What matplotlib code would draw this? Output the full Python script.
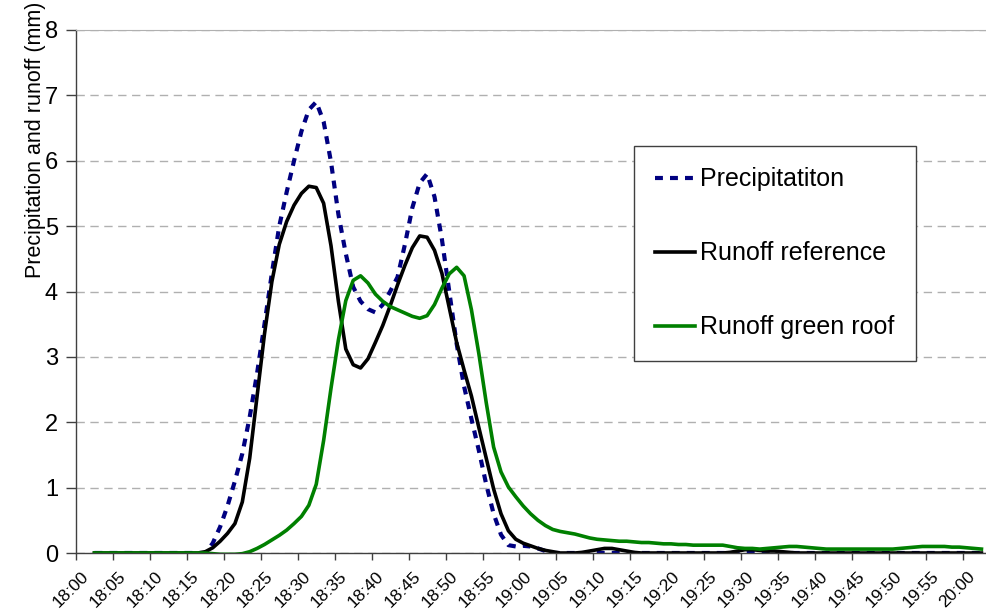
import numpy as np
import matplotlib
matplotlib.use('Agg')
import matplotlib.pyplot as plt

plt.rcParams['font.family'] = ['Liberation Sans', 'DejaVu Sans']

# minute-by-minute values from 18:02 to 20:02 (mm)
first_minute = 2

precipitation = [
    0, 0, 0, 0, 0, 0, 0, 0, 0, 0, 0, 0, 0, 0, 0.0,            # 18:02-18:16
    0.0, 0.15, 0.40, 0.72, 1.10, 1.52, 2.08, 2.75, 3.50, 4.28,  # 18:17-18:26
    5.00, 5.52, 6.00, 6.45, 6.78, 6.90, 6.60, 5.98, 5.18, 4.58,  # 18:27-18:36
    4.07, 3.85, 3.73, 3.68, 3.80, 4.00, 4.22, 4.72, 5.28, 5.66,  # 18:37-18:46
    5.80, 5.45, 4.80, 4.00, 3.20, 2.55, 2.05, 1.57, 1.05, 0.60,  # 18:47-18:56
    0.28, 0.12, 0.10, 0.11, 0.10, 0.07, 0.03, 0, 0, 0,           # 18:57-19:06
    0, 0, 0, 0, 0, 0, 0, 0, 0, 0,                                # 19:07-19:16
    0, 0, 0, 0, 0, 0, 0, 0, 0, 0,                                # 19:17-19:26
    0, 0, 0, 0, 0, 0, 0, 0, 0, 0,                                # 19:27-19:36
    0, 0, 0, 0, 0, 0, 0, 0, 0, 0,                                # 19:37-19:46
    0, 0, 0, 0, 0, 0, 0, 0, 0, 0,                                # 19:47-19:56
    0, 0, 0, 0, 0, 0,                                            # 19:57-20:02
]

runoff_reference = [
    0, 0, 0, 0, 0, 0, 0, 0, 0, 0, 0, 0, 0, 0, 0,
    0.02, 0.08, 0.18, 0.30, 0.45, 0.78, 1.45, 2.40, 3.35, 4.15,
    4.72, 5.07, 5.32, 5.50, 5.61, 5.59, 5.35, 4.70, 3.85, 3.12,
    2.88, 2.83, 2.97, 3.22, 3.48, 3.78, 4.10, 4.40, 4.67, 4.85,
    4.83, 4.63, 4.28, 3.75, 3.22, 2.80, 2.40, 1.92, 1.45, 0.98,
    0.60, 0.34, 0.21, 0.15, 0.11, 0.07, 0.04, 0.02, 0, 0,
    0, 0.01, 0.03, 0.05, 0.07, 0.07, 0.05, 0.03, 0.01, 0,
    0, 0, 0, 0, 0, 0, 0, 0, 0, 0,
    0, 0.01, 0.03, 0.05, 0.05, 0.04, 0.03, 0.03, 0.02, 0.01,
    0, 0, 0, 0, 0, 0, 0, 0, 0, 0,
    0, 0, 0, 0, 0, 0, 0, 0, 0, 0,
    0, 0, 0, 0, 0, 0,
]

runoff_green_roof = [
    0, 0, 0, 0, 0, 0, 0, 0, 0, 0, 0, 0, 0, 0, 0,
    0, -0.01, -0.02, -0.02, -0.02, -0.01, 0.02, 0.07, 0.13, 0.20,
    0.27, 0.35, 0.45, 0.56, 0.73, 1.05, 1.72, 2.52, 3.26, 3.86,
    4.17, 4.24, 4.13, 3.96, 3.85, 3.77, 3.72, 3.67, 3.62, 3.59,
    3.63, 3.80, 4.05, 4.27, 4.37, 4.24, 3.72, 3.05, 2.30, 1.62,
    1.24, 1.01, 0.86, 0.72, 0.60, 0.50, 0.42, 0.36, 0.33, 0.31,
    0.29, 0.26, 0.23, 0.21, 0.20, 0.19, 0.18, 0.18, 0.17, 0.16,
    0.16, 0.15, 0.14, 0.14, 0.13, 0.13, 0.12, 0.12, 0.12, 0.12,
    0.12, 0.10, 0.08, 0.07, 0.07, 0.06, 0.07, 0.08, 0.09, 0.10,
    0.10, 0.09, 0.08, 0.07, 0.06, 0.06, 0.06, 0.06, 0.06, 0.06,
    0.06, 0.06, 0.06, 0.06, 0.07, 0.08, 0.09, 0.10, 0.10, 0.10,
    0.10, 0.09, 0.09, 0.08, 0.07, 0.06,
]

tick_minutes = list(range(0, 121, 5))
tick_labels = [f'{18 + m // 60}:{m % 60:02d}' for m in tick_minutes]

fig = plt.figure(figsize=(9.87, 6.10), dpi=100)
ax = fig.add_axes([76 / 987, 1 - 553 / 610, 911 / 987, 523 / 610])

x = np.arange(len(precipitation)) + first_minute + 0.5  # category centres

ax.plot(x, precipitation, color='#000080', lw=3.0, dashes=(1.9, 1.7),
        label='Precipitatiton', dash_capstyle='butt', dash_joinstyle='round')
ax.plot(x, runoff_reference, color='black', lw=2.6, label='Runoff reference',
        solid_joinstyle='round')
ax.plot(x, runoff_green_roof, color='#008000', lw=2.6, label='Runoff green roof',
        solid_joinstyle='round')

ax.set_xlim(0, 123.25)
ax.set_ylim(0, 8)

ax.set_yticks(range(0, 9))
ax.tick_params(axis='y', labelsize=17, length=7, width=1, color='#404040', pad=6)
ax.yaxis.grid(True, color='#b0b0b0', lw=1, dashes=(6, 4))

# ticks on category boundaries, labels slightly to the right
ax.set_xticks(tick_minutes)
ax.set_xticklabels([])
ax.set_xticks([m + 1.35 for m in tick_minutes], minor=True)
ax.set_xticklabels(tick_labels, minor=True, rotation=45, ha='right', va='center',
                   rotation_mode='anchor', fontsize=12.5)
ax.tick_params(axis='x', which='major', length=5, width=1, color='#404040')
ax.tick_params(axis='x', which='minor', length=0, pad=15)

for s in ['left', 'bottom']:
    ax.spines[s].set_color('#404040')
    ax.spines[s].set_linewidth(1)
ax.spines['top'].set_color('#b0b0b0')
ax.spines['right'].set_visible(False)
ax.set_axisbelow(True)

fig.text(36 / 987, 1 - 140 / 610, 'Precipitation and runoff (mm)', rotation=90,
         ha='center', va='center', fontsize=15.5)

leg = ax.legend(loc='upper left', bbox_to_anchor=(634 / 987, 1 - 146 / 610),
                bbox_transform=fig.transFigure, borderaxespad=0, fontsize=18,
                handlelength=1.6, handletextpad=0.2, labelspacing=2.0,
                borderpad=0.85, fancybox=False, framealpha=1)
leg.get_frame().set_edgecolor('#404040')
leg.get_frame().set_linewidth(1)

fig.savefig('out.png', dpi=100)
